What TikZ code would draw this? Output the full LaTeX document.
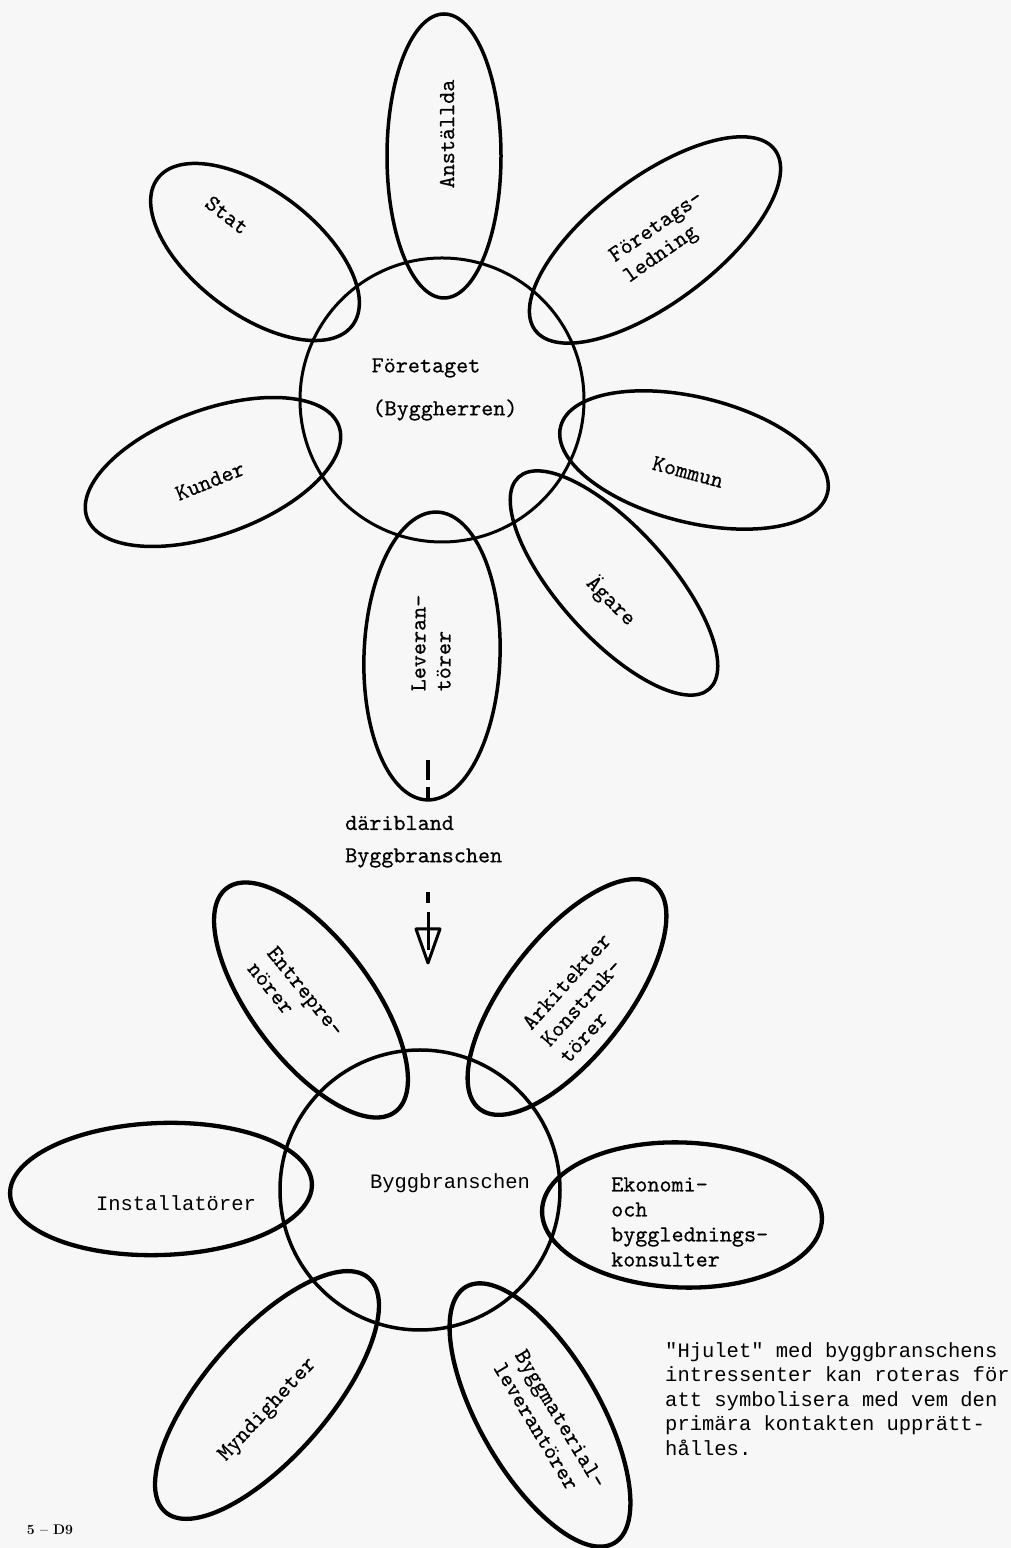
\documentclass[tikz,border=0pt]{standalone}
\usepackage{fontspec}
\newfontfamily\tw{Liberation Mono}
\newfontfamily\pe{lmmono10-regular}[Extension=.otf, FakeBold=0.5]
\usetikzlibrary{shapes.geometric,arrows.meta}
\begin{document}
\begin{tikzpicture}[x=1pt,y=1pt,
  petal/.style={draw=black, ellipse, line width=3.5pt, inner sep=0pt, outer sep=0pt},
  lowpetal/.style={petal, line width=4.3pt},
  hub/.style={petal, line width=3pt},
  lbl/.style={font=\pe\fontsize{23}{25}\selectfont, inner sep=0pt, align=left, text=black},
  sl/.style={font=\tw\fontsize{20.5}{24.5}\selectfont, inner sep=0pt, align=left, text=black},
  ink/.style={draw=black, line width=4pt}]
\clip (0,0) rectangle (1011,1548);
\fill[black!3] (0,0) rectangle (1011,1548);

% ---------- upper wheel ----------
\node[hub, minimum width=284pt, minimum height=284pt] (firm) at (442,1148) {};
\node[petal, minimum width=284pt, minimum height=114pt, rotate=90] (anst) at (444,1392) {};
\node[petal, minimum width=244pt, minimum height=124pt, rotate=-37] (stat) at (255,1296) {};
\node[petal, minimum width=300pt, minimum height=125pt, rotate=37] (ledn) at (655,1308) {};
\node[petal, minimum width=275pt, minimum height=125pt, rotate=-14] (komm) at (694,1088) {};
\node[petal, minimum width=268pt, minimum height=125pt, rotate=20] (kund) at (213,1076) {};
\node[petal, minimum width=285pt, minimum height=110pt, rotate=-48] (agar) at (614,965) {};
\node[petal, minimum width=288pt, minimum height=136pt, rotate=88] (leve) at (432,892) {};

\node[lbl] (tfirm1) at (426,1180) {Företaget};
\node[lbl] (tfirm2) at (445,1138) {(Byggherren)};
\node[lbl, rotate=90] (tanst) at (447,1414) {Anställda};
\node[lbl, rotate=-38] (tstat) at (227,1333) {Stat};
\node[lbl, rotate=35] (tledn) at (664,1310) {Företags-\\ ledning};
\node[lbl, rotate=-15] (tkomm) at (688,1076) {Kommun};
\node[lbl, rotate=22] (tkund) at (210,1067) {Kunder};
\node[lbl, rotate=-45] (tagar) at (611,947) {Ägare};
\node[lbl, rotate=90] (tleve) at (431,905) {Leveran-\\törer};

% ---------- link ----------
\coordinate (levbot) at (428,748);
\coordinate (d1) at (428,788);
\draw[ink, dash pattern=on 20pt off 7pt] (d1) -- (levbot);
\node[lbl, anchor=west] (tdar) at (345,725) {däribland};
\node[lbl, anchor=west] (tbygg) at (345,690) {Byggbranschen};
\coordinate (d3) at (428,656);
\coordinate (d4) at (428,645);
\coordinate (d5) at (428,636);
\coordinate (d6) at (428,598);
\coordinate (tipL) at (416,619);
\coordinate (tipR) at (440,619);
\coordinate (tip) at (428,585);
\draw[ink] (d3) -- (d4);
\draw[ink, line width=3pt] (d5) -- (d6);
\draw[draw=black, line width=3pt, line join=round] (tipL) -- (tipR) -- (tip) -- cycle;

% ---------- lower wheel ----------
\node[lowpetal, line width=3.5pt, minimum width=280pt, minimum height=280pt] (bran) at (420,358) {};
\node[lowpetal, minimum width=280pt, minimum height=120pt, rotate=-53] (entr) at (311,548) {};
\node[lowpetal, minimum width=284pt, minimum height=120pt, rotate=52] (arki) at (567,551) {};
\node[lowpetal, minimum width=302pt, minimum height=132pt, rotate=2] (inst) at (161,359) {};
\node[lowpetal, minimum width=280pt, minimum height=145pt, rotate=-2] (ekon) at (682,333) {};
\node[lowpetal, minimum width=310pt, minimum height=124pt, rotate=49] (mynd) at (267,153) {};
\node[lowpetal, minimum width=296pt, minimum height=120pt, rotate=-60] (matr) at (540,133) {};

\node[sl] (tbran) at (450,365) {Byggbranschen};
\node[lbl, rotate=-51] (tentr) at (296,549) {Entrepre-\\nörer};
\node[lbl, rotate=48] (tarki) at (585,550) {Arkitekter\\Konstruk-\\törer};
\node[sl] (tinst) at (176,345) {Installatörer};
\node[lbl, anchor=west] (tekon) at (611,326) {Ekonomi-\\och\\bygglednings-\\konsulter};
\node[lbl, rotate=47] (tmynd) at (268,138) {Myndigheter};
\node[lbl, rotate=-59] (tmatr) at (550,123) {Byggmaterial-\\leverantörer};

% ---------- caption ----------
\node[sl, anchor=west] (cap) at (665,149) {"Hjulet" med byggbranschens\\intressenter kan roteras för\\att symbolisera med vem den\\primära kontakten upprätt-\\hålles.};
\node[font=\bfseries\fontsize{14}{16}\selectfont, inner sep=0pt] (pg) at (50,18) {5 -- D9};
\end{tikzpicture}
\end{document}
